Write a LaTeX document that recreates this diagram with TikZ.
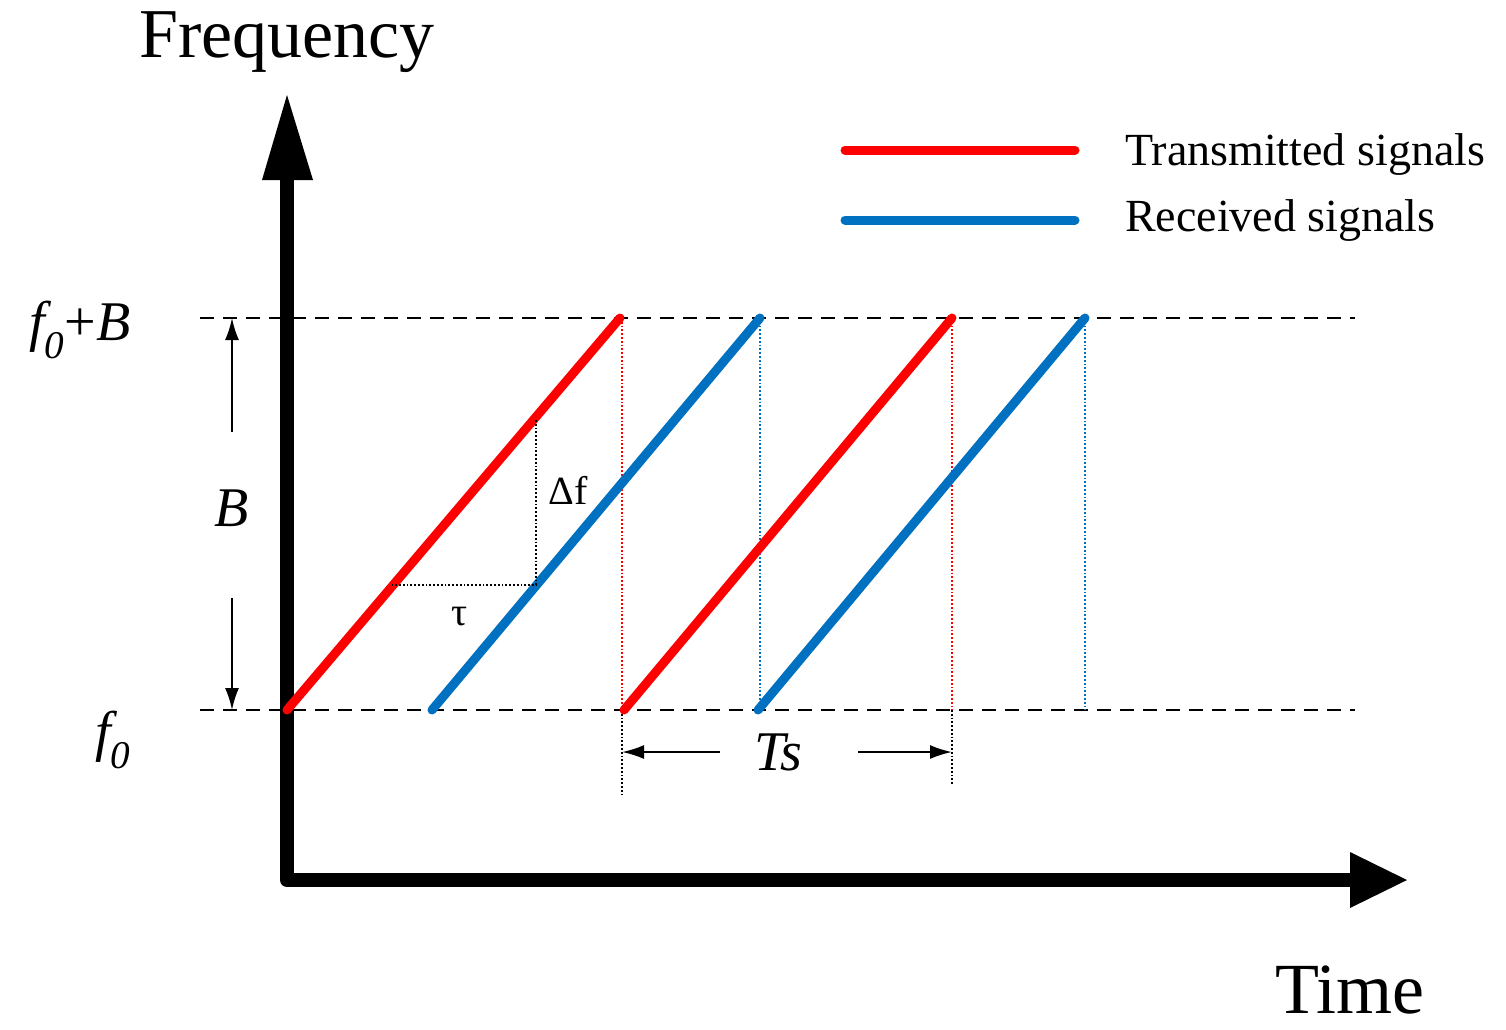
\documentclass[tikz,border=0pt]{standalone}
\usepackage{fontspec}
\setmainfont{Liberation Serif}
\usetikzlibrary{arrows.meta}
\definecolor{tred}{RGB}{255,0,0}
\definecolor{rblue}{RGB}{0,112,192}
\begin{document}
\begin{tikzpicture}[x=1pt,y=-1pt,
 axis/.style={line width=14pt,line cap=round,line join=round},
 sig/.style={line width=9pt,line cap=round},
 dashln/.style={line width=2pt,dash pattern=on 14pt off 9pt},
 dotln/.style={line width=1.8pt,dotted},
 arr/.style={line width=2pt,-{Latex[length=22pt,width=14pt]}},
 lab/.style={inner sep=0pt}]
\useasboundingbox (0,0) rectangle (1506,1029);
\fill[white] (0,0) rectangle (1506,1029);
% axes
\coordinate (o) at (287,880);
\coordinate (yt) at (287,175);
\coordinate (xt) at (1355,880);
\draw[axis] (yt) -- (o) -- (xt);
\fill (262,180) -- (313,180) -- (287,95) -- cycle;
\fill (1350,852) -- (1350,908) -- (1407,880) -- cycle;
% dashed levels
\coordinate (t1) at (200,318); \coordinate (t2) at (1355,318);
\coordinate (b1) at (200,710); \coordinate (b2) at (1355,710);
\draw[dashln] (t1) -- (t2);
\draw[dashln] (b1) -- (b2);
% dotted verticals
\coordinate (r1t) at (622,318); \coordinate (r1b) at (622,710); \coordinate (r1e) at (622,795);
\coordinate (r2t) at (952,318); \coordinate (r2b) at (952,710); \coordinate (r2e) at (952,785);
\coordinate (b1t) at (760,318); \coordinate (b1b) at (760,710);
\coordinate (b2t) at (1085,318); \coordinate (b2b) at (1085,710);
\draw[dotln,tred] (r1t) -- (r1b);
\draw[dotln,tred] (r2t) -- (r2b);
\draw[dotln,rblue] (b1t) -- (b1b);
\draw[dotln,rblue] (b2t) -- (b2b);
\draw[dotln,black] (r1b) -- (r1e);
\draw[dotln,black] (r2b) -- (r2e);
% signals
\draw[sig,tred] (287,710) -- (620,318);
\draw[sig,tred] (624,710) -- (952,318);
\draw[sig,rblue] (432,710) -- (760,318);
\draw[sig,rblue] (758,710) -- (1085,318);
% delta f, tau
\coordinate (d1) at (536,420); \coordinate (d2) at (536,585); \coordinate (d3) at (392,585);
\draw[dotln,black] (d1) -- (d2) -- (d3);
\node[lab] (df) at (568,490) {\fontsize{40}{42}\selectfont Δf};
\node[lab] (tau) at (460,617) {\fontsize{40}{42}\selectfont τ};
% Ts
\node[lab] (ts) at (778,752) {\fontsize{56}{58}\selectfont\itshape Ts};
\coordinate (tsl) at (622,752); \coordinate (tsr) at (952,752);
\draw[arr] (720,752) -- (tsl);
\draw[arr] (858,752) -- (tsr);
% B
\node[lab] (B) at (232,508) {\fontsize{56}{58}\selectfont\itshape B};
\coordinate (Bt) at (232,318); \coordinate (Bb) at (232,710);
\draw[arr] (232,432) -- (Bt);
\draw[arr] (232,598) -- (Bb);
% labels
\node[lab] (f0B) at (80,330) {\fontsize{56}{58}\selectfont\itshape f\textsubscript{0}\upshape+\itshape B};
\node[lab] (f0) at (113,740) {\fontsize{56}{58}\selectfont\itshape f\textsubscript{0}};
\node[lab] (freq) at (287,42) {\fontsize{70}{72}\selectfont Frequency};
\node[lab] (time) at (1350,990) {\fontsize{72}{74}\selectfont Time};
% legend
\coordinate (l1a) at (845,150); \coordinate (l1b) at (1075,150);
\coordinate (l2a) at (845,220); \coordinate (l2b) at (1075,220);
\draw[sig,tred] (l1a) -- (l1b);
\draw[sig,rblue] (l2a) -- (l2b);
\node[lab,anchor=west] (lt) at (1125,154) {\fontsize{46}{48}\selectfont Transmitted signals};
\node[lab,anchor=west] (lr) at (1125,220) {\fontsize{46}{48}\selectfont Received signals};
\end{tikzpicture}
\end{document}
